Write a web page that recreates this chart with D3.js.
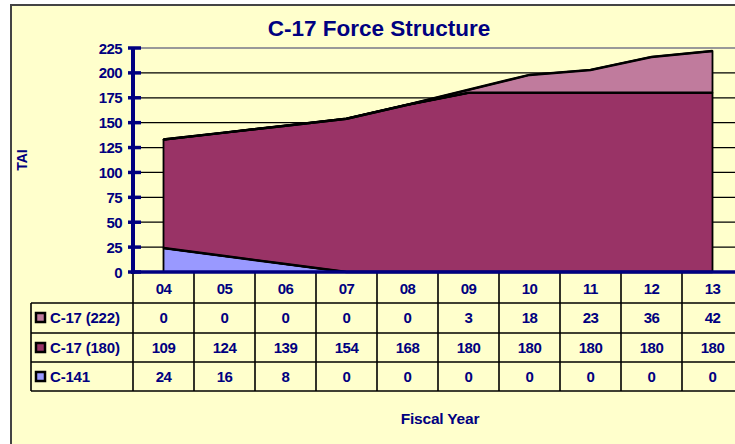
<!DOCTYPE html>
<html>
<head>
<meta charset="utf-8">
<script src="https://cdn.jsdelivr.net/npm/d3@7"></script>
<style>
  html, body { margin: 0; padding: 0; background: #ffffff; }
  #chart { width: 735px; height: 444px; overflow: hidden; }
  svg { display: block; font-family: "Liberation Sans", Arial, sans-serif; }
</style>
</head>
<body>
<div id="chart"></div>
<script>
// --- data ---
const years = ["04", "05", "06", "07", "08", "09", "10", "11", "12", "13"];
const c141 = [24, 16, 8, 0, 0, 0, 0, 0, 0, 0];
const c17_180 = [109, 124, 139, 154, 168, 180, 180, 180, 180, 180];
const c17_222 = [0, 0, 0, 0, 0, 3, 18, 23, 36, 42];
const seriesNames = ["C-17 (222)", "C-17 (180)", "C-141"];
const yTicks = [0, 25, 50, 75, 100, 125, 150, 175, 200, 225];

(function () {
  const W = 735, H = 444;
  const BG = "#ffffcc";
  const NAVY = "#000080";
  const colors = { "C-141": "#9999ff", "C-17 (180)": "#993366", "C-17 (222)": "#c07b9d" };

  const svg = d3.select("#chart").append("svg")
    .attr("width", W).attr("height", H);

  // outer frame
  svg.append("rect")
    .attr("x", 11).attr("y", 5).attr("width", W + 20).attr("height", H + 20)
    .attr("fill", BG).attr("stroke", "#444").attr("stroke-width", 2);

  // --- scales ---
  const x = d3.scaleBand().domain(years).range([133, 743]);
  const cx = (d) => x(d) + x.bandwidth() / 2;
  const y = d3.scaleLinear().domain([0, 225]).range([272, 48]);

  // title
  svg.append("text")
    .attr("x", 379).attr("y", 36)
    .attr("text-anchor", "middle")
    .attr("fill", NAVY).attr("font-size", 22.5).attr("font-weight", "bold")
    .text("C-17 Force Structure");

  // gridlines
  svg.append("g").selectAll("line")
    .data(yTicks.filter((t) => t > 0))
    .enter().append("line")
    .attr("x1", 133).attr("x2", 750)
    .attr("y1", (d) => y(d)).attr("y2", (d) => y(d))
    .attr("stroke", (d) => (d === 225 ? "#999" : "#000"))
    .attr("stroke-width", (d) => (d === 225 ? 2 : 1.2));

  // --- stacked areas ---
  const rows = years.map((yr, i) => ({
    year: yr, "C-141": c141[i], "C-17 (180)": c17_180[i], "C-17 (222)": c17_222[i],
  }));
  const stack = d3.stack().keys(["C-141", "C-17 (180)", "C-17 (222)"]);
  const layers = stack(rows);

  const area = d3.area()
    .x((d) => cx(d.data.year))
    .y0((d) => y(d[0]))
    .y1((d) => y(d[1]));

  svg.append("g").selectAll("path")
    .data(layers)
    .enter().append("path")
    .attr("d", area)
    .attr("fill", (d) => colors[d.key])
    .attr("stroke", "#000")
    .attr("stroke-width", 1.8)
    .attr("stroke-linejoin", "round");

  // top edges drawn again so the heavier outline sits above neighbours
  const topLine = d3.line()
    .x((d) => cx(d.data.year))
    .y((d) => y(d[1]));
  svg.append("g").selectAll("path")
    .data(layers)
    .enter().append("path")
    .attr("d", topLine)
    .attr("fill", "none")
    .attr("stroke", "#000")
    .attr("stroke-width", 2.5);

  // --- y axis ---
  svg.append("line")
    .attr("x1", 133).attr("x2", 133).attr("y1", y(225) - 1).attr("y2", y(0) + 2)
    .attr("stroke", NAVY).attr("stroke-width", 4);
  const yt = svg.append("g").selectAll("g")
    .data(yTicks).enter().append("g");
  yt.append("line")
    .attr("x1", 128).attr("x2", 141)
    .attr("y1", (d) => y(d)).attr("y2", (d) => y(d))
    .attr("stroke", NAVY).attr("stroke-width", 3.5);
  yt.append("text")
    .attr("x", 122).attr("y", (d) => y(d) + 5.5)
    .attr("text-anchor", "end")
    .attr("fill", NAVY).attr("font-size", 15).attr("font-weight", "bold")
    .attr("letter-spacing", -0.6)
    .text((d) => d);

  svg.append("text")
    .attr("transform", "translate(27,160) rotate(-90)")
    .attr("text-anchor", "middle")
    .attr("fill", NAVY).attr("font-size", 14).attr("font-weight", "bold")
    .text("TAI");

  // --- data table ---
  const rowTop = [303, 333, 362];
  const rowH = 29;
  const tableBottom = rowTop[2] + rowH;
  const tableValues = { "C-17 (222)": c17_222, "C-17 (180)": c17_180, "C-141": c141 };
  const grid = svg.append("g").attr("stroke", "#000").attr("stroke-width", 1.6);

  // column separators
  grid.selectAll("line.col")
    .data(years.map((d) => x(d)).concat([x.range()[1]]).slice(1))
    .enter().append("line")
    .attr("x1", (d) => d).attr("x2", (d) => d)
    .attr("y1", 272).attr("y2", tableBottom);
  // row separators
  grid.selectAll("line.row")
    .data(rowTop.concat([tableBottom]))
    .enter().append("line")
    .attr("x1", 31).attr("x2", 750)
    .attr("y1", (d) => d).attr("y2", (d) => d);
  grid.append("line")
    .attr("x1", 31).attr("x2", 31).attr("y1", rowTop[0]).attr("y2", tableBottom);
  grid.append("line")
    .attr("x1", 133).attr("x2", 133).attr("y1", 272).attr("y2", tableBottom);

  // x axis line
  svg.append("line")
    .attr("x1", 131).attr("x2", 750).attr("y1", y(0)).attr("y2", y(0))
    .attr("stroke", NAVY).attr("stroke-width", 3.5);

  // year header
  svg.append("g").selectAll("text")
    .data(years).enter().append("text")
    .attr("x", cx).attr("y", 294)
    .attr("text-anchor", "middle")
    .attr("fill", NAVY).attr("font-size", 15).attr("font-weight", "bold")
    .attr("letter-spacing", -0.5)
    .text((d) => d);

  seriesNames.forEach((name, r) => {
    const top = rowTop[r];
    const g = svg.append("g");
    g.append("rect")
      .attr("x", 36).attr("y", top + rowH / 2 - 4.5)
      .attr("width", 9).attr("height", 9)
      .attr("fill", colors[name]).attr("stroke", "#000").attr("stroke-width", 2.5);
    g.append("text")
      .attr("x", 50).attr("y", top + rowH / 2 + 5.5)
      .attr("fill", NAVY).attr("font-size", 15).attr("font-weight", "bold")
      .attr("letter-spacing", -0.2)
      .text(name);
    g.selectAll("text.v")
      .data(tableValues[name]).enter().append("text")
      .attr("x", (d, i) => cx(years[i])).attr("y", top + rowH / 2 + 5.5)
      .attr("text-anchor", "middle")
      .attr("fill", NAVY).attr("font-size", 15).attr("font-weight", "bold")
      .attr("letter-spacing", -0.5)
      .text((d) => d);
  });

  svg.append("text")
    .attr("x", 440).attr("y", 424)
    .attr("text-anchor", "middle")
    .attr("fill", NAVY).attr("font-size", 15.5).attr("font-weight", "bold")
    .attr("letter-spacing", -0.2)
    .text("Fiscal Year");
})();
</script>
</body>
</html>
